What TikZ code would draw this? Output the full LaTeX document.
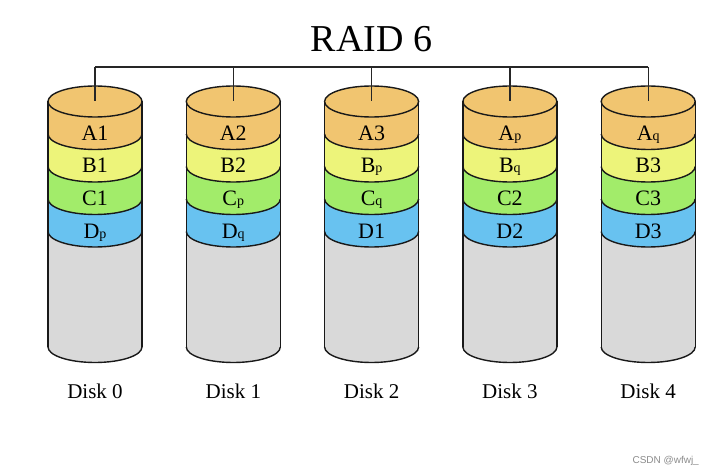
\documentclass[tikz,border=0pt]{standalone}
\usepackage{fontspec}
\setmainfont{Liberation Serif}
\newfontfamily\wmfont{Liberation Sans}
\definecolor{cA}{HTML}{F1C570}
\definecolor{cB}{HTML}{EDF47A}
\definecolor{cC}{HTML}{A2EC6A}
\definecolor{cD}{HTML}{68C2F0}
\definecolor{cE}{HTML}{D9D9D9}
\newcommand\subl[1]{{\fontsize{14}{14}\selectfont #1}}
\newcommand\seg[4]{\fill[#4] (#1-47,-#2) arc[start angle=180,end angle=360,x radius=47,y radius=15.5] -- (#1+47,-#3) arc[start angle=0,end angle=-180,x radius=47,y radius=15.5] -- cycle;}
\begin{document}
\begin{tikzpicture}[x=1pt,y=1pt,
  lbl/.style={font=\fontsize{22}{22}\selectfont, anchor=base, inner sep=0pt},
  disklbl/.style={font=\fontsize{21}{21}\selectfont, anchor=base, inner sep=0pt},
  outline/.style={draw=black!90, line width=1.4pt},
  bus/.style={draw=black!85, line width=1.4pt}]
\useasboundingbox (0,0) rectangle (713,-476);
\fill[white] (0,0) rectangle (713,-476);
\node[font=\fontsize{38}{38}\selectfont, anchor=base, inner sep=0pt] (title) at (371.5,-52) {RAID 6};
\foreach \i/\a/\b/\c/\d in {0/A1/B1/C1/D\subl{p},1/A2/B2/C\subl{p}/D\subl{q},2/A3/B\subl{p}/C\subl{q}/D1,3/A\subl{p}/B\subl{q}/C2/D2,4/A\subl{q}/B3/C3/D3}{
  \pgfmathsetmacro\cx{95+138.3*\i}
  % fills
  \fill[cA] (\cx-47,-101.5) arc[start angle=180,end angle=0,x radius=47,y radius=15.5] -- (\cx+47,-134) arc[start angle=0,end angle=-180,x radius=47,y radius=15.5] -- cycle;
  \seg{\cx}{134}{166.5}{cB}
  \seg{\cx}{166.5}{199}{cC}
  \seg{\cx}{199}{231.5}{cD}
  \seg{\cx}{231.5}{347}{cE}
  % outlines
  \draw[outline] (\cx,-101.5) ellipse[x radius=47,y radius=15.5];
  \foreach \y in {134,166.5,199,231.5,347}
    \draw[outline] (\cx-47,-\y) arc[start angle=180,end angle=360,x radius=47,y radius=15.5];
  \draw[outline] (\cx-47,-101.5) -- (\cx-47,-347);
  \draw[outline] (\cx+47,-101.5) -- (\cx+47,-347);
  % labels
  \node[lbl] (a\i) at (\cx,-140.5) {\a};
  \node[lbl] (b\i) at (\cx,-173) {\b};
  \node[lbl] (c\i) at (\cx,-206) {\c};
  \node[lbl] (d\i) at (\cx,-239) {\d};
  \node[disklbl] (n\i) at (\cx,-398) {Disk \i};
  \coordinate (t\i) at (\cx,-101.5);
  \coordinate (u\i) at (\cx,-67);
}
\draw[bus] (u0) -- (u4);
\foreach \i in {0,...,4} \draw[bus] (u\i) -- (t\i);
\node[font=\wmfont\fontsize{10}{10}\selectfont, text=black!45, anchor=east, inner sep=0pt] (wm) at (699,-461) {CSDN @wfwj\_};
\end{tikzpicture}
\end{document}
